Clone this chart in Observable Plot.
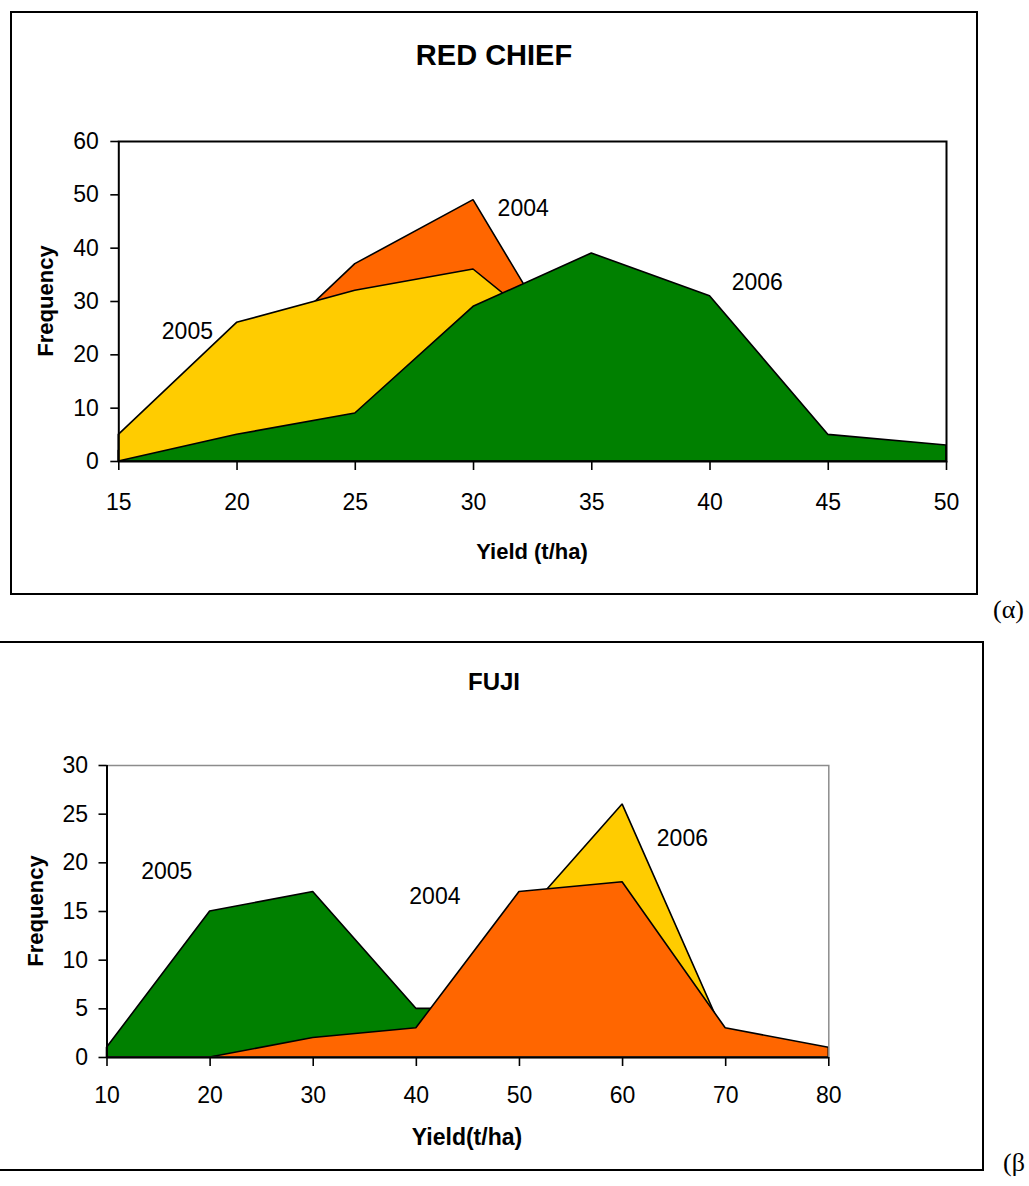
<!DOCTYPE html>
<html>
<head>
<meta charset="utf-8">
<script src="https://cdn.jsdelivr.net/npm/d3@7"></script>
<script src="https://cdn.jsdelivr.net/npm/@observablehq/plot@0.6"></script>
<style>
  html, body { margin: 0; padding: 0; background: #fff; }
  #page { position: relative; width: 1029px; height: 1186px; overflow: hidden; font-family: Arial, "Liberation Sans", sans-serif; color: #000; }
  .box { position: absolute; border: 2px solid #000; box-sizing: border-box; }
  .lbl { position: absolute; transform: translate(-50%, -50%); white-space: nowrap; font-weight: bold; }
  .rot { transform: translate(-50%, -50%) rotate(-90deg); }
  .greek { position: absolute; font-family: "Liberation Serif", "Times New Roman", serif; font-size: 26px; white-space: nowrap; transform: translateY(-50%); }
  .chart { position: absolute; left: 0; }
</style>
</head>
<body>
<div id="page">
  <div class="box" style="left:10px; top:11px; width:968px; height:584px;"></div>
  <div class="box" style="left:-3px; top:641px; width:987px; height:530px;"></div>
  <div class="lbl" style="left:494px; top:55px; font-size:29px;">RED CHIEF</div>
  <div class="lbl rot" style="left:46px; top:301px; font-size:22px;">Frequency</div>
  <div class="lbl" style="left:532px; top:552px; font-size:22px;">Yield (t/ha)</div>
  <div class="greek" style="left:993px; top:610px;">(α)</div>
  <div class="lbl" style="left:494px; top:682px; font-size:24px;">FUJI</div>
  <div class="lbl rot" style="left:36px; top:911px; font-size:22px;">Frequency</div>
  <div class="lbl" style="left:467px; top:1137px; font-size:23px;">Yield(t/ha)</div>
  <div class="greek" style="left:1003px; top:1163px;">(β</div>
  <div id="chartTop" class="chart" style="top:0px;"></div>
  <div id="chartBottom" class="chart" style="top:600px;"></div>
</div>
<script>
// ---------- RED CHIEF data ----------
const rcYield = [15, 20, 25, 30, 35, 40, 45, 50];
const rc2004 = [2, 16, 37, 49, 12, 4, 1, 0];
const rc2005 = [5, 26, 32, 36, 18, 6, 2, 0];
const rc2006 = [0, 5, 9, 29, 39, 31, 5, 3];
const rcYTicks = [0, 10, 20, 30, 40, 50, 60];
const rcLabelText = ["2004", "2005", "2006"];
const rcLabelX = [32.1, 17.9, 42.0];
const rcLabelY = [47.4, 24.3, 33.6];

// ---------- FUJI data ----------
const fujiYield = [10, 20, 30, 40, 50, 60, 70, 80];
const fuji2004 = [0, 0, 2, 3, 17, 18, 3, 1];
const fuji2005 = [1, 15, 17, 5, 5, 0, 0, 0];
const fuji2006 = [0, 0, 1, 2, 14, 26, 2, 0];
const fujiYTicks = [0, 5, 10, 15, 20, 25, 30];
const fujiLabelText = ["2005", "2004", "2006"];
const fujiLabelX = [15.8, 41.8, 65.8];
const fujiLabelY = [19.1, 16.5, 22.5];

const ORANGE = "#FF6600", YELLOW = "#FFCC00", GREEN = "#008000";

function area(xs, ys, color) {
  const idx = d3.range(xs.length);
  return Plot.areaY(idx, {x: i => xs[i], y: i => ys[i], fill: color, stroke: "#000", strokeWidth: 1.6, strokeLinejoin: "miter"});
}
function labels(txt, xs, ys) {
  const idx = d3.range(txt.length);
  return Plot.text(idx, {x: i => xs[i], y: i => ys[i], text: i => txt[i], fontSize: 23, fill: "#000"});
}
const baseStyle = {background: "transparent", color: "#000", fontFamily: "Arial, 'Liberation Sans', sans-serif", fontSize: "23px", overflow: "visible"};

const chartRC = Plot.plot({
  width: 1029, height: 600,
  marginLeft: 118.3, marginRight: 83, marginTop: 141, marginBottom: 139,
  style: baseStyle,
  x: {domain: [15, 50]},
  y: {domain: [0, 60]},
  marks: [
    area(rcYield, rc2004, ORANGE),
    area(rcYield, rc2005, YELLOW),
    area(rcYield, rc2006, GREEN),
    labels(rcLabelText, rcLabelX, rcLabelY),
    Plot.frame({stroke: "#000", strokeWidth: 2}),
    Plot.axisX({ticks: rcYield, tickSize: 9, tickPadding: 23, tickFormat: d => String(d), label: null, fontSize: 23, strokeWidth: 1.6}),
    Plot.axisY({ticks: rcYTicks, tickSize: 8, tickPadding: 12, tickFormat: d => String(d), label: null, fontSize: 23, strokeWidth: 1.6})
  ]
});
document.getElementById("chartTop").appendChild(chartRC);

const chartFuji = Plot.plot({
  width: 1029, height: 586,
  marginLeft: 106.5, marginRight: 200.7, marginTop: 165, marginBottom: 129,
  style: baseStyle,
  x: {domain: [10, 80]},
  y: {domain: [0, 30]},
  marks: [
    area(fujiYield, fuji2005, GREEN),
    area(fujiYield, fuji2006, YELLOW),
    area(fujiYield, fuji2004, ORANGE),
    labels(fujiLabelText, fujiLabelX, fujiLabelY),
    Plot.frame({stroke: "#8c8c8c", strokeWidth: 1.5}),
    Plot.ruleX([10], {stroke: "#000", strokeWidth: 2}),
    Plot.ruleY([0], {stroke: "#000", strokeWidth: 2}),
    Plot.axisX({ticks: fujiYield, tickSize: 9, tickPadding: 20, tickFormat: d => String(d), label: null, fontSize: 23, strokeWidth: 1.6}),
    Plot.axisY({ticks: fujiYTicks, tickSize: 8, tickPadding: 11, tickFormat: d => String(d), label: null, fontSize: 23, strokeWidth: 1.6})
  ]
});
document.getElementById("chartBottom").appendChild(chartFuji);
</script>
</body>
</html>
